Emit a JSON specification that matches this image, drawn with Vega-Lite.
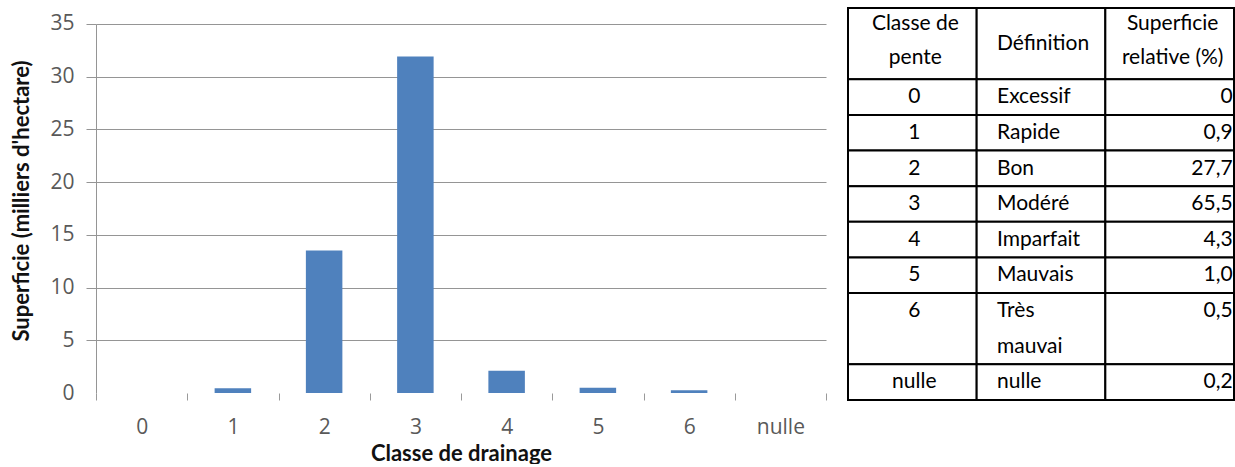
{
  "$schema": "https://vega.github.io/schema/vega-lite/v6.json",
  "padding": {"left": 10, "top": 7, "right": 0, "bottom": 0},
  "spacing": 20,
  "config": {"view": {"stroke": null}},
  "datasets": {
    "barres": [
      {"classe": "0", "superficie": 0},
      {"classe": "1", "superficie": 0.45},
      {"classe": "2", "superficie": 13.5},
      {"classe": "3", "superficie": 31.9},
      {"classe": "4", "superficie": 2.1},
      {"classe": "5", "superficie": 0.5},
      {"classe": "6", "superficie": 0.25},
      {"classe": "nulle", "superficie": 0}
    ],
    "tableau": [
      {"rang": 0, "colonne": "classe", "texte": "Classe de\npente", "lignes": 2},
      {"rang": 0, "colonne": "definition", "texte": "Définition", "lignes": 2},
      {"rang": 0, "colonne": "superficie", "texte": "Superficie\nrelative (%)", "lignes": 2},
      {"rang": 1, "colonne": "classe", "texte": "0", "lignes": 1},
      {"rang": 1, "colonne": "definition", "texte": "Excessif", "lignes": 1},
      {"rang": 1, "colonne": "superficie", "texte": "0", "lignes": 1},
      {"rang": 2, "colonne": "classe", "texte": "1", "lignes": 1},
      {"rang": 2, "colonne": "definition", "texte": "Rapide", "lignes": 1},
      {"rang": 2, "colonne": "superficie", "texte": "0,9", "lignes": 1},
      {"rang": 3, "colonne": "classe", "texte": "2", "lignes": 1},
      {"rang": 3, "colonne": "definition", "texte": "Bon", "lignes": 1},
      {"rang": 3, "colonne": "superficie", "texte": "27,7", "lignes": 1},
      {"rang": 4, "colonne": "classe", "texte": "3", "lignes": 1},
      {"rang": 4, "colonne": "definition", "texte": "Modéré", "lignes": 1},
      {"rang": 4, "colonne": "superficie", "texte": "65,5", "lignes": 1},
      {"rang": 5, "colonne": "classe", "texte": "4", "lignes": 1},
      {"rang": 5, "colonne": "definition", "texte": "Imparfait", "lignes": 1},
      {"rang": 5, "colonne": "superficie", "texte": "4,3", "lignes": 1},
      {"rang": 6, "colonne": "classe", "texte": "5", "lignes": 1},
      {"rang": 6, "colonne": "definition", "texte": "Mauvais", "lignes": 1},
      {"rang": 6, "colonne": "superficie", "texte": "1,0", "lignes": 1},
      {"rang": 7, "colonne": "classe", "texte": "6", "lignes": 2},
      {"rang": 7, "colonne": "definition", "texte": "Très\nmauvai", "lignes": 2},
      {"rang": 7, "colonne": "superficie", "texte": "0,5", "lignes": 2},
      {"rang": 8, "colonne": "classe", "texte": "nulle", "lignes": 1},
      {"rang": 8, "colonne": "definition", "texte": "nulle", "lignes": 1},
      {"rang": 8, "colonne": "superficie", "texte": "0,2", "lignes": 1}
    ]
  },
  "hconcat": [
    {
      "width": 730,
      "height": 385,
      "data": {"name": "barres"},
      "mark": {"type": "bar", "color": "#4f81bd", "width": {"band": 0.4}},
      "encoding": {
        "x": {
          "field": "classe", "type": "ordinal", "sort": null,
          "scale": {"type": "band", "paddingInner": 0, "paddingOuter": 0},
          "axis": {
            "title": "Classe de drainage", "labelAngle": 0, "domain": false,
            "tickBand": "extent", "tickSize": 7, "tickColor": "#9a9a9a", "tickWidth": 1,
            "labelFont": "Open Sans", "labelFontSize": 21, "labelColor": "#595959", "labelPadding": 16,
            "titleFont": "Lato", "titleFontSize": 22, "titleFontWeight": "bold", "titleColor": "#111111", "titlePadding": 6
          }
        },
        "y": {
          "field": "superficie", "type": "quantitative",
          "scale": {"domain": [0, 36.5], "nice": false},
          "axis": {
            "title": "Superficie (milliers d'hectare)",
            "values": [0, 5, 10, 15, 20, 25, 30, 35],
            "grid": true, "gridColor": "#959595",
            "gridOpacity": {"condition": {"test": "datum.value === 0", "value": 0}, "value": 1},
            "tickOpacity": {"condition": {"test": "datum.value === 0", "value": 0}, "value": 1},
            "tickSize": 10, "tickColor": "#959595", "domainColor": "#959595", "domainDash": [369, 100],
            "labelFont": "Open Sans", "labelFontSize": 21, "labelColor": "#595959", "labelPadding": 12,
            "titleFont": "Lato", "titleFontSize": 22, "titleFontWeight": "bold", "titleColor": "#111111", "titlePadding": 16
          }
        }
      }
    },
    {
      "width": 386,
      "height": 392,
      "data": {"name": "tableau"},
      "transform": [
        {"stack": "lignes", "groupby": ["colonne"], "sort": [{"field": "rang", "order": "ascending"}], "as": ["haut", "bas"]}
      ],
      "layer": [
        {
          "mark": {"type": "rect", "fill": "#ffffff", "stroke": "#000000", "strokeWidth": 2},
          "encoding": {
            "x": {"field": "colonne", "type": "nominal", "sort": ["classe", "definition", "superficie"], "scale": {"type": "band", "domain": ["classe", "definition", "superficie"], "paddingInner": 0, "paddingOuter": 0}, "axis": null},
            "y": {"field": "haut", "type": "quantitative", "scale": {"domain": [0, 11], "reverse": true, "nice": false, "zero": false}, "axis": null},
            "y2": {"field": "bas"}
          }
        },
        {
          "transform": [{"filter": "datum.rang === 0 && datum.colonne !== 'definition'"}],
          "mark": {"type": "text", "font": "Lato", "fontSize": 21, "color": "#000000", "align": "center", "baseline": "top", "dy": 5, "dx": 3, "lineHeight": 34, "lineBreak": "\n"},
          "encoding": {
            "x": {"field": "colonne", "type": "nominal", "axis": null},
            "y": {"field": "haut", "type": "quantitative", "axis": null},
            "text": {"field": "texte", "type": "nominal"}
          }
        },
        {
          "transform": [{"filter": "datum.rang === 0 && datum.colonne === 'definition'"}],
          "mark": {"type": "text", "font": "Lato", "fontSize": 21, "color": "#000000", "align": "left", "baseline": "top", "dy": 25, "dx": -44},
          "encoding": {
            "x": {"field": "colonne", "type": "nominal", "axis": null},
            "y": {"field": "haut", "type": "quantitative", "axis": null},
            "text": {"field": "texte", "type": "nominal"}
          }
        },
        {
          "transform": [{"filter": "datum.rang > 0 && datum.colonne === 'classe'"}],
          "mark": {"type": "text", "font": "Lato", "fontSize": 21, "color": "#000000", "align": "center", "baseline": "top", "dy": 7, "dx": 2},
          "encoding": {
            "x": {"field": "colonne", "type": "nominal", "axis": null},
            "y": {"field": "haut", "type": "quantitative", "axis": null},
            "text": {"field": "texte", "type": "nominal"}
          }
        },
        {
          "transform": [{"filter": "datum.rang > 0 && datum.colonne === 'definition'"}],
          "mark": {"type": "text", "font": "Lato", "fontSize": 21, "color": "#000000", "align": "left", "baseline": "top", "dy": 7, "dx": -44, "lineHeight": 36, "lineBreak": "\n"},
          "encoding": {
            "x": {"field": "colonne", "type": "nominal", "axis": null},
            "y": {"field": "haut", "type": "quantitative", "axis": null},
            "text": {"field": "texte", "type": "nominal"}
          }
        },
        {
          "transform": [{"filter": "datum.rang > 0 && datum.colonne === 'superficie'"}],
          "mark": {"type": "text", "font": "Lato", "fontSize": 21, "color": "#000000", "align": "right", "baseline": "top", "dy": 7, "dx": 63},
          "encoding": {
            "x": {"field": "colonne", "type": "nominal", "axis": null},
            "y": {"field": "haut", "type": "quantitative", "axis": null},
            "text": {"field": "texte", "type": "nominal"}
          }
        }
      ]
    }
  ]
}
